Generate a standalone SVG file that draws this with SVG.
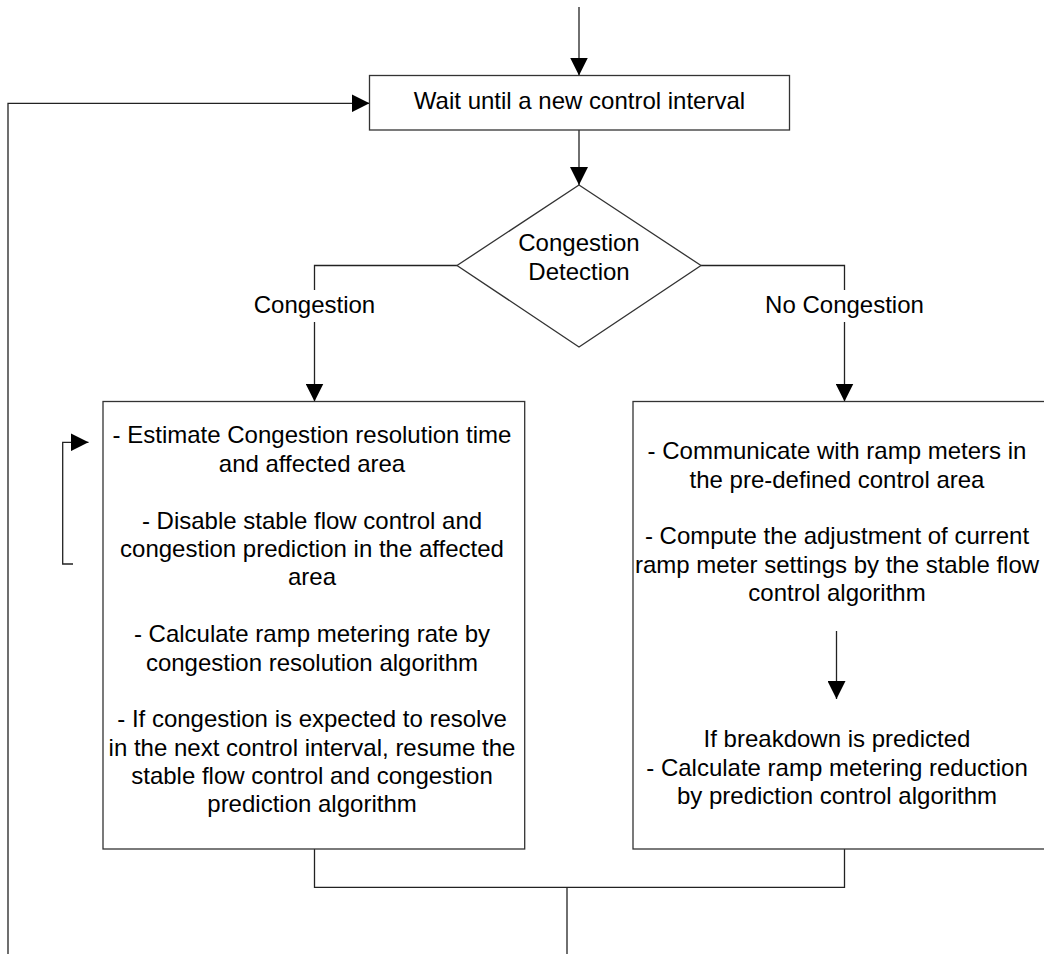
<svg xmlns="http://www.w3.org/2000/svg" width="1044" height="954" viewBox="0 0 1044 954">
<style>
.ln{fill:none;stroke:#222;stroke-width:1.3}
.bx{fill:#fff;stroke:#333;stroke-width:1.3}
.t{font-family:"Liberation Sans",Arial,sans-serif;font-size:24px;fill:#000;text-anchor:middle}
</style>
<defs>
<marker id="ah" viewBox="0 0 18 18" refX="18" refY="9" markerWidth="18" markerHeight="18" markerUnits="userSpaceOnUse" orient="auto">
<path d="M0,0 L18,9 L0,18 Z" fill="#000"/>
</marker>
</defs>
<rect width="1044" height="954" fill="#fff"/>
<g id="connectors">
<path class="ln" d="M579,7 V75.5" marker-end="url(#ah)"/>
<path class="ln" d="M8,954 V103.3 H369.5" marker-end="url(#ah)"/>
<path class="ln" d="M579,130 V185" marker-end="url(#ah)"/>
<path class="ln" d="M457,265.5 H314.5 V401.5" marker-end="url(#ah)"/>
<path class="ln" d="M701,265.5 H844.5 V401.5" marker-end="url(#ah)"/>
<path class="ln" d="M73,564 H62.7 V442.3 H88.5" marker-end="url(#ah)"/>
<path class="ln" d="M314.5,849 V887.3 H844.5 V849"/>
<path class="ln" d="M567,887.3 V954"/>
</g>
<g id="labels">
<rect x="252" y="290" width="125" height="32" fill="#fff"/>
<text class="t" x="314.5" y="312.7">Congestion</text>
<rect x="762" y="290" width="165" height="32" fill="#fff"/>
<text class="t" x="844.5" y="312.7">No Congestion</text>
</g>
<g id="wait">
<rect class="bx" x="369.5" y="75.5" width="420" height="54.5"/>
<text class="t" x="579.5" y="108.5">Wait until a new control interval</text>
</g>
<g id="detect">
<polygon class="bx" points="579,185 701,265.5 579,347 457,265.5"/>
<text class="t" x="579" y="251">Congestion</text>
<text class="t" x="579" y="279.5">Detection</text>
</g>
<g id="congestion-box">
<rect class="bx" x="103" y="401.5" width="421.7" height="447.5"/>
<text class="t" x="312" y="443.3">- Estimate Congestion resolution time</text>
<text class="t" x="312" y="471.7">and affected area</text>
<text class="t" x="312" y="528.5">- Disable stable flow control and</text>
<text class="t" x="312" y="557">congestion prediction in the affected</text>
<text class="t" x="312" y="585.3">area</text>
<text class="t" x="312" y="642">- Calculate ramp metering rate by</text>
<text class="t" x="312" y="670.5">congestion resolution algorithm</text>
<text class="t" x="312" y="727">- If congestion is expected to resolve</text>
<text class="t" x="312" y="755.5">in the next control interval, resume the</text>
<text class="t" x="312" y="784">stable flow control and congestion</text>
<text class="t" x="312" y="812">prediction algorithm</text>
</g>
<g id="noncongestion-box">
<rect class="bx" x="633" y="401.5" width="413" height="447.5"/>
<text class="t" x="837" y="459">- Communicate with ramp meters in</text>
<text class="t" x="837" y="487.5">the pre-defined control area</text>
<text class="t" x="837" y="544">- Compute the adjustment of current</text>
<text class="t" x="837" y="572.5">ramp meter settings by the stable flow</text>
<text class="t" x="837" y="601">control algorithm</text>
<path class="ln" d="M836.5,631 V699" marker-end="url(#ah)"/>
<text class="t" x="837" y="747">If breakdown is predicted</text>
<text class="t" x="837" y="775.5">- Calculate ramp metering reduction</text>
<text class="t" x="837" y="804">by prediction control algorithm</text>
</g>
</svg>
